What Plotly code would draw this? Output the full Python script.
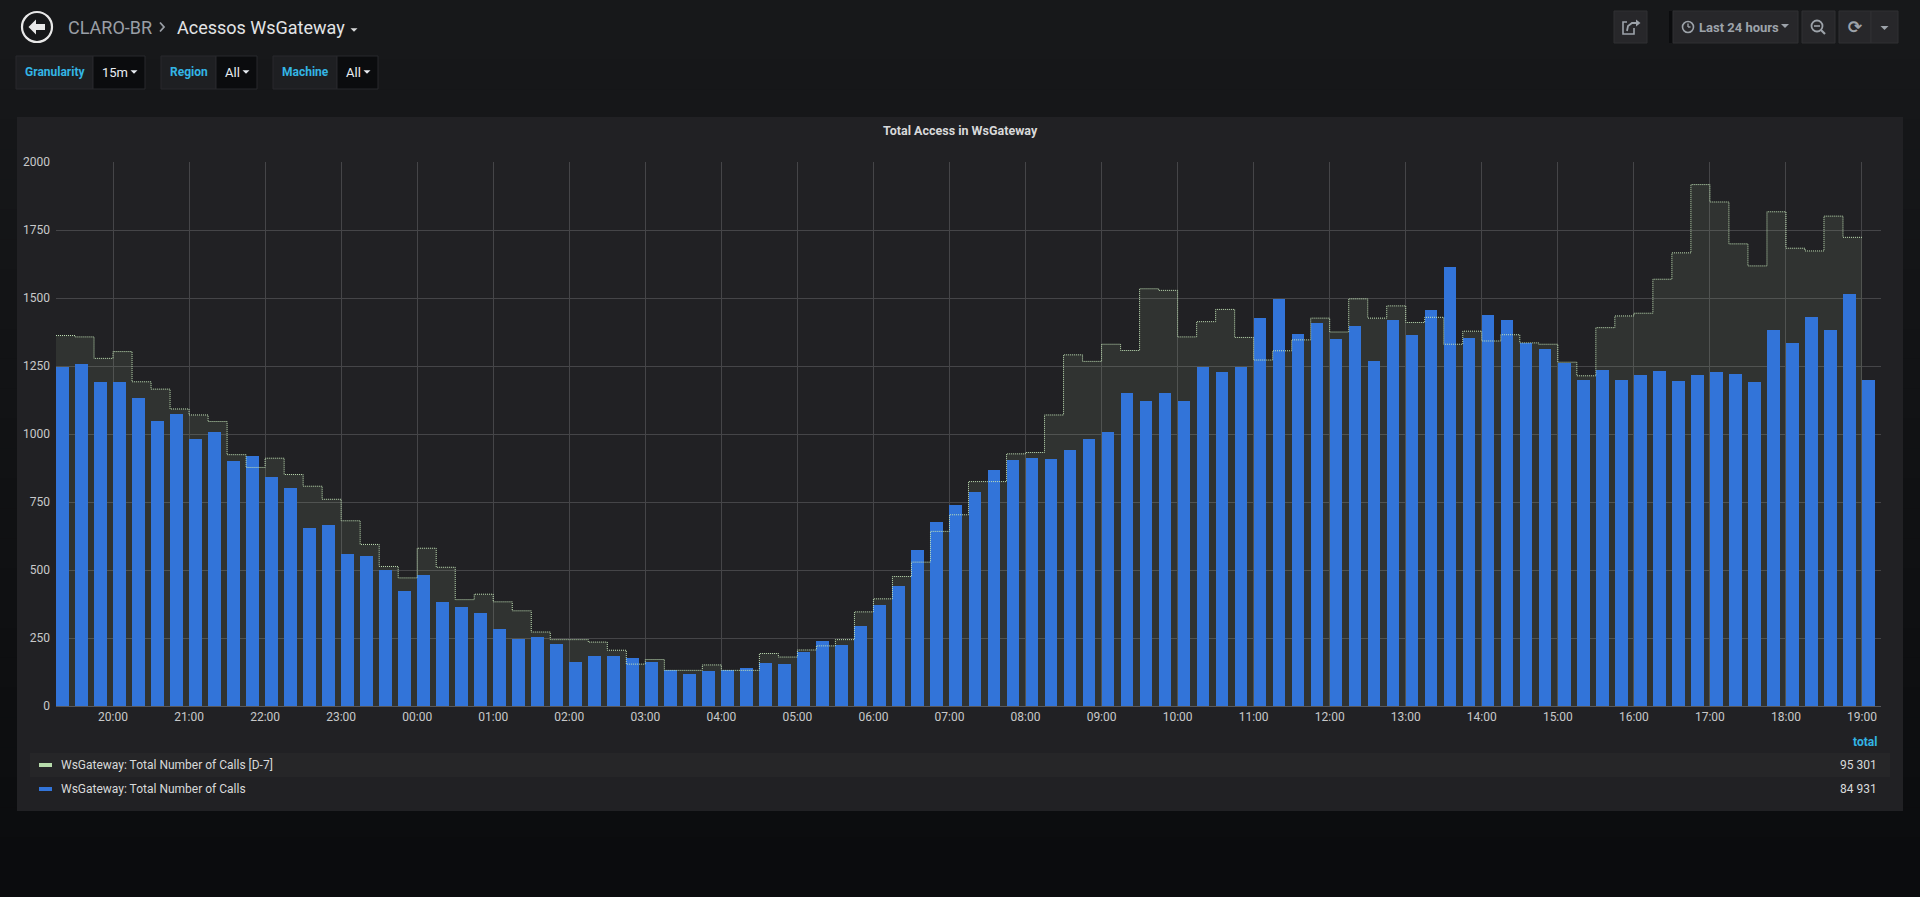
import pandas as pd
import plotly.graph_objects as go

# ---------------- data ----------------
times = pd.date_range("2019-03-14 19:15", periods=96, freq="15min")

calls = [1248, 1256, 1191,
         1190, 1133, 1047, 1073,
         980, 1006, 900, 919,
         841, 802, 656, 665,
         558, 553, 500, 424,
         481, 383, 363, 341,
         282, 248, 254, 228,
         160, 183, 183, 177,
         160, 134, 118, 129,
         131, 139, 157, 155,
         198, 240, 224, 293,
         370, 443, 572, 677,
         738, 787, 869, 906,
         912, 908, 943, 982,
         1009, 1152, 1123, 1152,
         1121, 1246, 1229, 1245,
         1427, 1496, 1368, 1407,
         1349, 1397, 1268, 1419,
         1365, 1457, 1614, 1354,
         1438, 1419, 1336, 1314,
         1261, 1197, 1235, 1197,
         1216, 1230, 1194, 1216,
         1227, 1219, 1192, 1381,
         1335, 1429, 1381, 1516,
         1197]

calls_d7 = [1362, 1357, 1278,
            1303, 1192, 1165, 1092,
            1070, 1046, 924, 877,
            911, 851, 808, 760,
            681, 594, 513, 471,
            580, 510, 391, 411,
            383, 350, 272, 244,
            244, 235, 205, 154,
            171, 131, 131, 151,
            131, 131, 193, 180,
            206, 221, 244, 346,
            394, 476, 529, 642,
            703, 825, 825, 927,
            932, 1070, 1291, 1267,
            1330, 1307, 1534, 1528,
            1357, 1413, 1458, 1355,
            1272, 1306, 1346, 1426,
            1375, 1497, 1426, 1471,
            1410, 1429, 1330, 1378,
            1342, 1365, 1335, 1330,
            1264, 1214, 1391, 1434,
            1444, 1569, 1666, 1917,
            1853, 1699, 1618, 1817,
            1683, 1673, 1801, 1723,
            1723]

series_names = ["WsGateway: Total Number of Calls [D-7]", "WsGateway: Total Number of Calls"]
series_totals = ["95 301", "84 931"]
x_range = ["2019-03-14 19:15", "2019-03-15 19:15"]

# ---------------- geometry helpers ----------------
W, H = 1920, 897
L, R, T, B = 56, 39, 162, 191
PW, PH = W - L - R, H - T - B


def X(px):
    return (px - L) / PW


def Y(py):
    return 1 - (py - T) / PH


FONT = "Roboto, 'Noto Sans', sans-serif"
BLUE = "#3274d9"
GREEN = "#b7dbab"

shapes = []
annotations = []


def rect(x0, y0, x1, y1, fill, line=None, lw=0, layer="below"):
    shapes.append(dict(type="rect", xref="paper", yref="paper",
                       x0=X(x0), x1=X(x1), y0=Y(y1), y1=Y(y0),
                       fillcolor=fill, line=dict(color=line or fill, width=lw),
                       layer=layer))


def circle(cx, cy, r, color, lw, fill="rgba(0,0,0,0)", layer="above"):
    shapes.append(dict(type="circle", xref="paper", yref="paper",
                       x0=X(cx - r), x1=X(cx + r), y0=Y(cy + r), y1=Y(cy - r),
                       fillcolor=fill, line=dict(color=color, width=lw), layer=layer))


def path(points, color, fill=None, lw=0, closed=True, layer="above"):
    d = "M " + " L ".join(f"{X(px):.6f},{Y(py):.6f}" for px, py in points)
    if closed:
        d += " Z"
    shapes.append(dict(type="path", xref="paper", yref="paper", path=d,
                       fillcolor=fill if fill else "rgba(0,0,0,0)",
                       line=dict(color=color, width=lw), layer=layer))


def line(x0, y0, x1, y1, color, lw):
    shapes.append(dict(type="line", xref="paper", yref="paper",
                       x0=X(x0), x1=X(x1), y0=Y(y0), y1=Y(y1),
                       line=dict(color=color, width=lw), layer="above"))


def caret(cx, cy, color, w=8, h=4):
    path([(cx - w / 2, cy - h / 2), (cx + w / 2, cy - h / 2), (cx, cy + h / 2)],
         color, fill=color, lw=0)


def text(t, px, py, size, color, anchor="left", bold=False, family=FONT):
    if bold:
        t = "<b>" + t + "</b>"
    annotations.append(dict(text=t, xref="paper", yref="paper", x=X(px), y=Y(py),
                            xanchor=anchor, yanchor="middle", showarrow=False,
                            font=dict(family=family, size=size, color=color)))


# ---------------- page background (vertical gradient) ----------------
top_c = (23, 24, 26)
bot_c = (11, 12, 14)
nb = 30
for i in range(nb):
    f = i / (nb - 1)
    c = tuple(round(top_c[k] + (bot_c[k] - top_c[k]) * f) for k in range(3))
    rect(0, i * H / nb, W, (i + 1) * H / nb + 1, "rgb(%d,%d,%d)" % c)

# panel
rect(17, 117, 1903, 811, "#212124")
# legend row highlight
rect(30, 753, 1890, 777, "#262628")

# ---------------- header ----------------
circle(37, 27, 15, "#e8e8e8", 2.2)
path([(28.5, 27), (36, 19.5), (36, 24), (45, 24), (45, 30), (36, 30), (36, 34.5)],
     "#e8e8e8", fill="#e8e8e8")
text("CLARO-BR", 66, 27, 18, "#9a9fa6")
path([(160, 22.5), (164, 27), (160, 31.5)], "#9a9fa6", lw=1.8, closed=False)
text("Acessos WsGateway", 175, 27, 18, "#e3e4e6")
caret(354, 30, "#d8d9da", 7, 3.5)

# template variables
var_boxes = [("Granularity", 16, 93, "15m", 145),
             ("Region", 161, 216, "All", 257),
             ("Machine", 273, 337, "All", 378)]
for lab, x0, xm, val, x1 in var_boxes:
    rect(x0, 56, xm, 89, "#1e1f22", "#28292c", 1)
    rect(xm, 56, x1, 89, "#0b0c0e", "#28292c", 1)
    text(lab, (x0 + xm) / 2, 72.5, 12, "#33b5e5", anchor="center", bold=True)
    text(val, xm + 7, 72.5, 13, "#e9edf2")
    caret(x1 - 11, 72, "#e9edf2", 7, 3.5)

# top-right buttons
BTN = "#27272a"
BTN_L = "#303033"
ICON = "#9da3aa"
rect(1614, 11, 1647, 43, BTN, BTN_L, 1)
rect(1669, 11, 1674, 43, "#0b0c0e")
rect(1673, 11, 1798, 43, BTN, BTN_L, 1)
rect(1802, 11, 1835, 43, BTN, BTN_L, 1)
rect(1839, 11, 1871, 43, BTN, BTN_L, 1)
rect(1871, 11, 1898, 43, BTN, BTN_L, 1)
# share icon
path([(1634, 28), (1634, 34), (1623, 34), (1623, 22), (1627, 22)], ICON, lw=1.6, closed=False)
path([(1627, 31), (1628, 26), (1632, 23), (1637, 23)], ICON, lw=1.8, closed=False)
path([(1636, 19.5), (1640.5, 23), (1636, 26.5)], ICON, fill=ICON)
# clock icon
circle(1688, 27, 5.5, ICON, 1.6)
line(1688, 27, 1688, 23.5, ICON, 1.4)
line(1688, 27, 1690.5, 27, ICON, 1.4)
text("Last 24 hours", 1697, 27, 13, ICON, bold=True)
caret(1785, 26, ICON, 8, 4)
# zoom-out icon
circle(1817, 26, 5.5, ICON, 1.8)
line(1814, 26, 1820, 26, ICON, 1.6)
line(1821, 30, 1825, 34, ICON, 2.2)
# refresh icon
text("⟳", 1855, 27.5, 17, ICON, anchor="center", bold=True, family="DejaVu Sans")
caret(1884.5, 28, ICON, 8, 4)

# ---------------- panel texts ----------------
text("Total Access in WsGateway", 960, 130, 12.5, "#d8d9da", anchor="center", bold=True)

# legend
text("total", 1879, 742, 12, "#33b5e5", anchor="right", bold=True)
legend_colors = [GREEN, BLUE]
for i, (nm, tot, col) in enumerate(zip(series_names, series_totals, legend_colors)):
    yy = 765 + i * 24
    rect(39, yy - 2, 52, yy + 2, col, layer="above")
    text(nm, 59, yy, 12, "#d8d9da")
    text(tot, 1879, yy, 12, "#d8d9da", anchor="right")

# ---------------- traces ----------------
fig = go.Figure()
# fill of the D-7 staircase (bottom layer)
fig.add_trace(go.Scatter(x=times, y=calls_d7, mode="lines", line_shape="hv",
                         line=dict(width=0, color="rgba(0,0,0,0)"), fill="tozeroy",
                         fillcolor="rgba(183,219,171,0.10)", hoverinfo="skip",
                         xaxis="x", yaxis="y", showlegend=False))
# current bars
fig.add_trace(go.Bar(x=times, y=calls, offset=0, width=10 * 60 * 1000,
                     marker=dict(color=BLUE, line=dict(width=0)),
                     xaxis="x2", yaxis="y2", showlegend=False, name=series_names[1]))
# D-7 staircase line on top
fig.add_trace(go.Scatter(x=times, y=calls_d7, mode="lines", line_shape="hv",
                         line=dict(width=1, color="#c4e4b8", dash="1px,1px"),
                         xaxis="x2", yaxis="y2", showlegend=False, name=series_names[0]))

fig.update_layout(
    width=W, height=H,
    margin=dict(l=L, r=R, t=T, b=B, pad=0),
    paper_bgcolor="#161719",
    plot_bgcolor="rgba(0,0,0,0)",
    font=dict(family=FONT, color="#c8c9ca"),
    showlegend=False,
    bargap=0,
    xaxis=dict(type="date", range=x_range, tickformat="%H:%M",
               tick0="2019-03-14 20:00", dtick=3600000,
               showgrid=True, gridcolor="#454548", gridwidth=1,
               showline=True, linecolor="#58585b", linewidth=1,
               zeroline=False, ticks="", tickfont=dict(size=12, color="#c8c9ca"),
               fixedrange=True),
    yaxis=dict(range=[0, 2000], dtick=250, tick0=0,
               showgrid=True, gridcolor="#454548", gridwidth=1,
               zeroline=False, showline=False, ticks="",
               ticklabelstandoff=5,
               tickfont=dict(size=12, color="#c8c9ca"), fixedrange=True),
    xaxis2=dict(type="date", range=x_range, overlaying="x", visible=False, fixedrange=True),
    yaxis2=dict(range=[0, 2000], overlaying="y", visible=False, fixedrange=True),
    shapes=shapes,
    annotations=annotations,
)

fig.write_html("out.html",
               config={"displayModeBar": False},
               post_script="document.body.style.margin='0';"
                           "document.body.style.overflow='hidden';"
                           "document.body.style.background='#0b0c0e';")
